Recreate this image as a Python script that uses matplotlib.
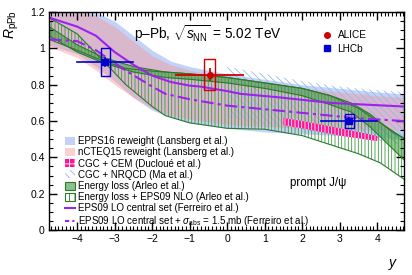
import matplotlib
matplotlib.use('Agg')
import matplotlib.pyplot as plt
from matplotlib.patches import Patch, Rectangle
from matplotlib.lines import Line2D
from matplotlib.ticker import MultipleLocator

plt.rcParams['font.family'] = ['Liberation Sans', 'DejaVu Sans']
plt.rcParams['mathtext.fontset'] = 'custom'
plt.rcParams['mathtext.rm'] = 'Liberation Sans'
plt.rcParams['mathtext.it'] = 'Liberation Sans:italic'
plt.rcParams['hatch.linewidth'] = 0.6

# EPPS16 reweight band
epps_x = [-4.75, -4.0, -3.5, -3.0, -2.5, -2.0, -1.5, -1.0, 0.0, 1.0, 2.0, 3.0, 4.0, 4.72]
epps_hi = [1.25, 1.23, 1.20, 1.15, 1.07, 0.99, 0.93, 0.90, 0.86, 0.83, 0.80, 0.78, 0.76, 0.75]
epps_lo = [1.02, 0.97, 0.90, 0.82, 0.73, 0.66, 0.62, 0.59, 0.56, 0.54, 0.53, 0.52, 0.51, 0.50]

# nCTEQ15 reweight band
ncteq_x = [-4.75, -4.0, -3.5, -3.0, -2.5, -2.0, -1.5, -1.0, 0.0, 1.0, 2.0, 3.0, 4.0, 4.72]
ncteq_hi = [1.25, 1.22, 1.18, 1.12, 1.04, 0.96, 0.91, 0.88, 0.84, 0.81, 0.78, 0.76, 0.74, 0.73]
ncteq_lo = [1.01, 0.95, 0.88, 0.80, 0.73, 0.67, 0.63, 0.61, 0.58, 0.57, 0.56, 0.555, 0.55, 0.55]

# CGC + CEM
cem_x = [1.5, 2.0, 2.5, 3.0, 3.5, 4.0]
cem_hi = [0.617, 0.60, 0.58, 0.56, 0.54, 0.517]
cem_lo = [0.578, 0.56, 0.54, 0.52, 0.505, 0.49]

# CGC + NRQCD
nrqcd_x = [0.0, 1.0, 2.0, 3.0, 4.0, 4.72]
nrqcd_hi = [0.90, 0.86, 0.82, 0.79, 0.77, 0.76]
nrqcd_lo = [0.62, 0.58, 0.55, 0.52, 0.49, 0.47]

# Energy loss
eloss_x = [-4.75, -4.0, -3.3, -2.5, -1.65, -1.0, 0.0, 1.0, 2.0, 2.75, 3.3, 3.8, 4.1, 4.4, 4.75]
eloss_hi = [1.12, 1.02, 0.95, 0.90, 0.87, 0.86, 0.84, 0.81, 0.78, 0.74, 0.70, 0.64, 0.59, 0.54, 0.50]
eloss_lo = [1.07, 0.98, 0.92, 0.87, 0.84, 0.83, 0.81, 0.78, 0.74, 0.69, 0.65, 0.57, 0.51, 0.45, 0.38]

# Energy loss + EPS09 NLO
elnlo_x = [-4.75, -4.0, -3.3, -2.7, -2.0, -1.65, -1.0, 0.0, 1.0, 2.0, 2.75, 3.5, 4.08, 4.75]
elnlo_a = [1.17, 1.08, 0.93, 0.80, 0.68, 0.63, 0.59, 0.56, 0.555, 0.52, 0.47, 0.42, 0.37, 0.275]
elnlo_b = [1.05, 0.99, 0.93, 0.89, 0.875, 0.87, 0.86, 0.84, 0.81, 0.78, 0.74, 0.67, 0.59, 0.50]

# EPS09 LO central set
eps_x = [-4.75, -4.0, -3.5, -3.0, -2.5, -2.0, -1.5, -1.0, -0.72, 0.0, 0.35, 1.41, 2.75, 4.72]
eps_y = [1.17, 1.12, 1.07, 0.98, 0.91, 0.85, 0.815, 0.795, 0.79, 0.765, 0.75, 0.73, 0.70, 0.68]

# EPS09 LO central set + sigma_abs
abs_x = [-4.75, -4.0, -3.5, -2.72, -2.0, -1.65, -1.0, 0.0, 1.0, 2.0, 2.75, 3.5, 4.72]
abs_y = [1.05, 1.04, 0.99, 0.88, 0.79, 0.75, 0.72, 0.685, 0.665, 0.645, 0.63, 0.615, 0.60]

# LHCb
lhcb_x = [-3.25, 3.25]
lhcb_xlo = [-4.0, 2.5]
lhcb_xhi = [-2.5, 4.0]
lhcb_y = [0.925, 0.60]
lhcb_stat = [0.02, 0.015]
lhcb_syst = [0.075, 0.04]

# ALICE
alice_x = [-0.47]
alice_xlo = [-1.37]
alice_xhi = [0.43]
alice_y = [0.855]
alice_stat = [0.03]
alice_syst = [0.085]

c_epps = '#7b9cf0'
c_ncteq = '#f59a9a'
c_cem = '#ff1493'
c_nrqcd = '#9ab8ee'
c_eloss = '#3f9a3f'
c_edge = '#2b7a2b'
c_eps = '#a020f0'
c_alice = '#d00000'
c_lhcb = '#0000d0'

fig = plt.figure(figsize=(4.12, 2.75), dpi=100)
ax = fig.add_axes([0.119, 0.1636, 0.862, 0.7924])

ax.fill_between(epps_x, epps_lo, epps_hi, color=c_epps, alpha=0.45, lw=0)
ax.fill_between(ncteq_x, ncteq_lo, ncteq_hi, color=c_ncteq, alpha=0.45, lw=0)
ax.fill_between(nrqcd_x, nrqcd_lo, nrqcd_hi, facecolor='none', edgecolor=c_nrqcd,
                hatch='\\\\\\\\\\', lw=0)
ax.fill_between(elnlo_x, elnlo_a, elnlo_b, facecolor='none', edgecolor=c_eloss,
                hatch='|||||', lw=0)
ax.plot(elnlo_x, elnlo_a, color=c_edge, lw=0.8)
ax.plot(elnlo_x, elnlo_b, color=c_edge, lw=0.8)
ax.fill_between(eloss_x, eloss_lo, eloss_hi, color=c_eloss, alpha=0.55, lw=0)
ax.plot(eloss_x, eloss_lo, color=c_edge, lw=0.8)
ax.plot(eloss_x, eloss_hi, color=c_edge, lw=0.8)
ax.fill_between(cem_x, cem_lo, cem_hi, facecolor=c_cem, edgecolor='white', hatch='|||||', lw=0)
ax.plot(eps_x, eps_y, color=c_eps, lw=1.5)
ax.plot(abs_x, abs_y, color=c_eps, lw=1.5, ls=(0, (6, 2, 1.5, 2)))

# data points with syst boxes
for i in range(len(lhcb_x)):
    ax.plot([lhcb_xlo[i], lhcb_xhi[i]], [lhcb_y[i], lhcb_y[i]], color=c_lhcb, lw=1.2, zorder=5)
    ax.plot([lhcb_x[i], lhcb_x[i]], [lhcb_y[i] - lhcb_stat[i], lhcb_y[i] + lhcb_stat[i]],
            color=c_lhcb, lw=1.2, zorder=5)
    ax.add_patch(Rectangle((lhcb_x[i] - 0.12, lhcb_y[i] - lhcb_syst[i]), 0.24,
                           2 * lhcb_syst[i], fill=False, edgecolor=c_lhcb, lw=1, zorder=5))
ax.plot(lhcb_x, lhcb_y, 's', color=c_lhcb, ms=4, zorder=6)

for i in range(len(alice_x)):
    ax.plot([alice_xlo[i], alice_xhi[i]], [alice_y[i], alice_y[i]], color=c_alice, lw=1.3, zorder=5)
    ax.plot([alice_x[i], alice_x[i]], [alice_y[i] - alice_stat[i], alice_y[i] + alice_stat[i]],
            color=c_alice, lw=1.3, zorder=5)
    ax.add_patch(Rectangle((alice_x[i] - 0.15, alice_y[i] - alice_syst[i]), 0.3,
                           2 * alice_syst[i], fill=False, edgecolor=c_alice, lw=1, zorder=5))
ax.plot(alice_x, alice_y, 'o', color=c_alice, ms=4, zorder=6)

ax.set_xlim(-4.75, 4.72)
ax.set_ylim(0, 1.2)
ax.xaxis.set_major_locator(MultipleLocator(1))
ax.xaxis.set_minor_locator(MultipleLocator(0.1))
ax.yaxis.set_major_locator(MultipleLocator(0.2))
ax.yaxis.set_minor_locator(MultipleLocator(0.05))
ax.tick_params(which='both', direction='in', top=True, right=True, labelsize=7.5, pad=3)
ax.tick_params(which='major', length=6, width=1)
ax.tick_params(which='minor', length=3, width=0.8)
ax.set_yticks([0, 0.2, 0.4, 0.6, 0.8, 1, 1.2])
ax.set_yticklabels(['0', '0.2', '0.4', '0.6', '0.8', '1', '1.2'])
ax.set_xticks([-4, -3, -2, -1, 0, 1, 2, 3, 4])
ax.set_xticklabels(['\u22124', '\u22123', '\u22122', '\u22121', '0', '1', '2', '3', '4'])
for s in ax.spines.values():
    s.set_linewidth(1)

ax.text(0.448, 0.90, 'p\u2013Pb, $\\sqrt{s_{\\rm NN}}$ = 5.02 TeV', transform=ax.transAxes,
        ha='center', va='center', fontsize=9.8)
ax.text(0.758, 0.215, 'prompt J/\u03c8', transform=ax.transAxes, ha='center', va='center',
        fontsize=8.3)

handles = [
    Patch(facecolor=c_epps, alpha=0.45, lw=0),
    Patch(facecolor=c_ncteq, alpha=0.45, lw=0),
    Patch(facecolor=c_cem, edgecolor='white', hatch='+++', lw=0),
    Patch(facecolor='white', edgecolor=c_nrqcd, hatch='\\\\\\\\', lw=0),
    Patch(facecolor='#8cc08c', edgecolor=c_edge, lw=0.8),
    Patch(facecolor='white', edgecolor=c_edge, hatch='|||', lw=0.8),
    Line2D([], [], color=c_eps, lw=1.5),
    Line2D([], [], color=c_eps, lw=1.5, ls=(0, (2, 1.5, 1, 1.5))),
]
labels = [
    'EPPS16 reweight (Lansberg et al.)',
    'nCTEQ15 reweight (Lansberg et al.)',
    'CGC + CEM (Ducloué et al.)',
    'CGC + NRQCD (Ma et al.)',
    'Energy loss (Arleo et al.)',
    'Energy loss + EPS09 NLO (Arleo et al.)',
    'EPS09 LO central set (Ferreiro et al.)',
    'EPS09 LO central set + $\\sigma_{\\rm abs}$ = 1.5 mb (Ferreiro et al.)',
]
leg1 = ax.legend(handles, labels, loc='upper left', bbox_to_anchor=(0.045, 0.43),
                 frameon=False, fontsize=7.0, handlelength=1.0, handleheight=0.9,
                 handletextpad=0.3, labelspacing=0.12, borderpad=0, borderaxespad=0)
ax.add_artist(leg1)

h2 = [Line2D([], [], marker='o', color=c_alice, ls='none', ms=4),
      Line2D([], [], marker='s', color=c_lhcb, ls='none', ms=4)]
ax.legend(h2, ['ALICE', 'LHCb'], loc='upper left', bbox_to_anchor=(0.77, 0.917),
          frameon=False, fontsize=7.2, handlelength=1.0, handletextpad=0.5,
          labelspacing=0.35, borderpad=0, borderaxespad=0)

fig.text(12 / 412, 1 - 25 / 275, '$R_{\\rm pPb}$', rotation=90, ha='center', va='center',
         fontsize=10)
fig.text(393 / 412, 1 - 265 / 275, '$y$', ha='center', va='center', fontsize=10)

fig.savefig('out.png', dpi=100)
